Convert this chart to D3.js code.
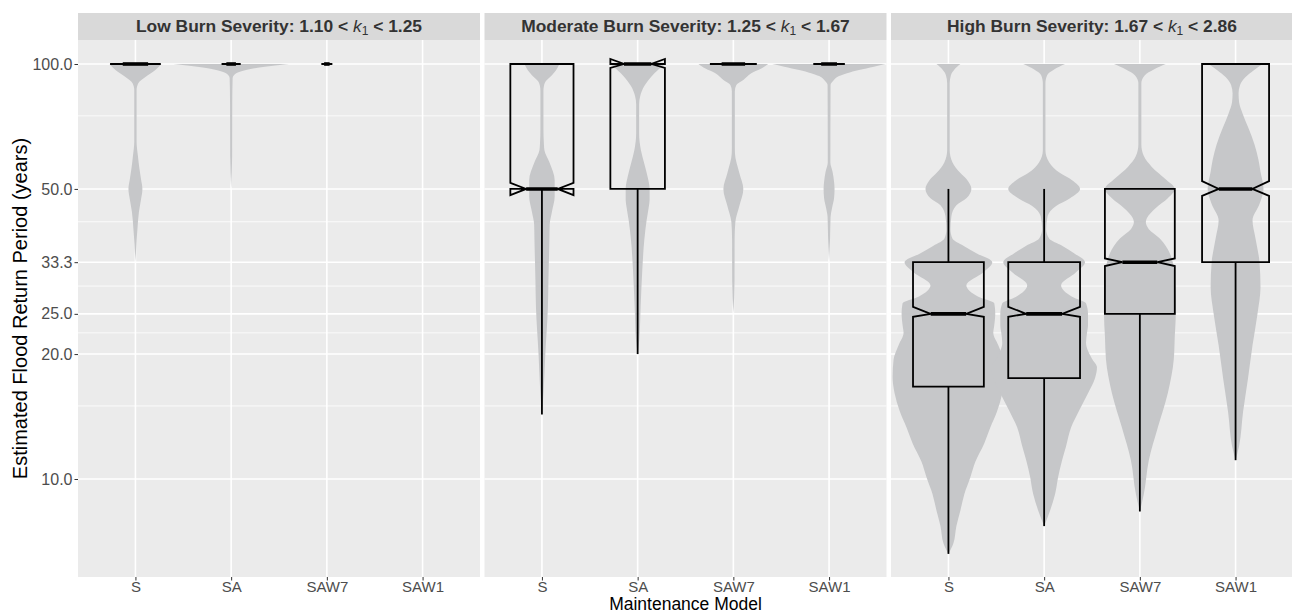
<!DOCTYPE html>
<html>
<head>
<meta charset="utf-8">
<script src="https://cdn.jsdelivr.net/npm/d3@7"></script>
<style>
body { margin: 0; background: #fff; }
text { font-family: "Liberation Sans", Arial, sans-serif; }
</style>
</head>
<body>
<div id="chart"></div>
<script>
var svgWidth = 1292;
var svgHeight = 614;

var margin = { top: 13, left: 78, bottom: 37 };
var panelW = 402;
var panelGap = 4.5;
var stripH = 27;
var plotTop = margin.top + stripH;
var plotBottom = svgHeight - margin.bottom;

// categories and facet labels
var models = ["S", "SA", "SAW7", "SAW1"];
var severities = ["Low Burn Severity", "Moderate Burn Severity", "High Burn Severity"];
var kFrom = ["1.10", "1.25", "1.67"];
var kTo = ["1.25", "1.67", "2.86"];

// y axis breaks (return period, years)
var yBreaks = [10, 20, 25, 33.3, 50, 100];
var yMinor = [15, 22.5, 29.17, 41.67, 75];

// violin outlines: [return period, half-width density]
var violinLow = [
    [[100, 26], [96.7, 20], [93, 10], [90, 3], [86.6, 1.2], [65, 1.2], [60, 2.5], [56, 4], [53, 5.5], [50, 7], [47, 5.5], [44, 3.5], [40, 2], [37, 1], [33.3, 0]],
    [[100, 58], [98.9, 40], [97.8, 25], [96.7, 15], [95.7, 8], [94.1, 3], [92.5, 1.5], [80, 1.1], [60, 1], [50, 0]],
    [],
    []
];
var violinModerate = [
    [[100, 17.5], [96.5, 14], [94, 10], [91, 4], [88.5, 2], [86, 1.5], [70, 1.5], [64, 2], [62, 2.5], [58, 7.5], [52.5, 12.8], [48, 12.8], [44, 10], [41, 7.8], [37.7, 7.5], [30, 6.5], [26, 6], [19.8, 3.3], [16.3, 1.7], [14.3, 0]],
    [[100, 27], [98.5, 24], [94, 15], [88.5, 6.7], [83.5, 2.5], [80, 1.5], [68, 1.5], [62, 3.3], [57.5, 6.7], [53.5, 10], [50, 12], [47, 12], [45, 11], [42, 9], [37.7, 6.7], [32, 4.7], [26, 3], [21.7, 1.7], [20, 0]],
    [[100, 35], [97.5, 28], [95, 18], [91.5, 10], [89, 3], [86, 1.5], [64, 1.5], [61, 1.6], [54.6, 6], [50, 10], [45.5, 6], [41.6, 2], [38, 1.3], [30, 1.2], [25, 0]],
    [[100, 57], [98.5, 45], [96.7, 30], [95, 18], [93.5, 10], [91, 4], [89, 1.5], [58, 1.3], [55, 3.5], [52, 5], [50, 5.5], [47.5, 5], [45, 3], [42.8, 1.5], [38, 1], [33.3, 0]]
];
var violinHigh = [
    [[100, 12], [97, 6], [94, 2.5], [90, 1.3], [62, 1.3], [58, 4], [54.6, 12], [52.5, 19], [50, 23], [47.5, 18], [45.7, 8], [43, 3], [40, 2], [38, 4], [36.5, 15], [35, 28], [33.3, 44], [31.5, 35], [29.3, 18], [27.5, 30], [26.5, 46], [25, 47], [23.5, 46], [22.5, 45], [21, 50], [19.4, 55], [17.6, 56], [16.1, 54], [14.6, 49], [13.3, 42], [12.2, 36], [11, 27], [10.1, 22], [9.2, 16], [8.4, 12], [7.7, 8], [7, 5], [6.6, 0]],
    [[100, 21], [97, 10], [94, 3], [90, 1.3], [62, 1.3], [58, 5], [54.6, 16], [52.5, 28], [50, 36], [47.5, 26], [45.5, 12], [43, 3.5], [40, 2], [38, 5], [36.5, 18], [35, 30], [33.3, 41], [31.5, 32], [29.3, 17], [27.5, 28], [26.5, 42], [25, 44], [23.5, 44], [22.5, 43], [21.3, 42], [19.5, 48], [18.6, 53], [17.5, 51], [16.1, 44], [14.6, 35], [13.3, 27], [12, 22], [11.1, 18], [10.1, 14], [9.2, 11], [8.4, 6], [7.7, 0]],
    [[100, 26], [97, 14], [94, 5], [90, 1.5], [64, 1.5], [60, 4], [56.5, 12], [53, 25], [50, 35], [47.5, 28], [45, 16], [42.5, 7], [41.6, 6], [40, 9], [38, 20], [35, 30], [33.3, 33], [30, 35], [27, 36], [25, 36], [22, 35], [19.4, 34], [16.1, 28], [13.3, 18], [11.1, 9], [9.2, 4], [8.35, 0]],
    [[100, 27], [96.5, 18], [93, 10], [89, 4.5], [85, 3], [81, 3.5], [76, 7], [70, 13], [64, 19], [58.7, 23], [55, 25], [50, 28], [46, 24], [42, 17], [38, 20], [33.3, 24], [29, 25], [25, 22], [21, 17], [17.5, 12.5], [14.5, 7.5], [12, 3.5], [11.1, 0]]
];

// notched boxplot stats: [ymin, lower, notchLower, median, notchUpper, upper, ymax]
var boxLow = [
    [100, 100, 100, 100, 100, 100, 100],
    [100, 100, 100, 100, 100, 100, 100],
    [100, 100, 100, 100, 100, 100, 100],
    null
];
var boxModerate = [
    [14.3, 50, 48.3, 50, 51.7, 100, 100],
    [20, 50, 97.8, 100, 102.8, 100, 100],
    [100, 100, 100, 100, 100, 100, 100],
    [100, 100, 100, 100, 100, 100, 100]
];
var boxHigh = [
    [6.6, 16.7, 24.6, 25, 26, 33.3, 50],
    [7.7, 17.5, 24.6, 25, 26, 33.3, 50],
    [8.35, 25, 32.6, 33.3, 34, 50, 50],
    [11.1, 33.3, 48.1, 50, 52.2, 100, 100]
];
// relative box widths (varwidth)
var boxWidthLow = [0.53, 0.2, 0.115, 0];
var boxWidthModerate = [0.66, 0.57, 0.49, 0.33];
var boxWidthHigh = [0.74, 0.75, 0.73, 0.70];

var violins = [violinLow, violinModerate, violinHigh];
var boxes = [boxLow, boxModerate, boxHigh];
var boxWidths = [boxWidthLow, boxWidthModerate, boxWidthHigh];

var svg = d3.select("#chart")
    .append("svg")
    .attr("width", svgWidth)
    .attr("height", svgHeight);

var y = d3.scaleLog()
    .domain([10, 100])
    .range([479, 64]);

var x = d3.scalePoint()
    .domain(models)
    .range([0, panelW])
    .padding(0.6);

var wScale = d3.scaleLinear()
    .domain([0, 60])
    .range([0, 0.625 * x.step()]);

var violinArea = d3.area()
    .y(d => y(d[0]))
    .x0(d => -wScale(d[1]))
    .x1(d => wScale(d[1]))
    .curve(d3.curveMonotoneY);

svg.append("defs").append("clipPath")
    .attr("id", "panelClip")
    .append("rect")
    .attr("x", 0)
    .attr("y", plotTop)
    .attr("width", panelW)
    .attr("height", plotBottom - plotTop);

severities.forEach(function(sev, p) {
    var px = margin.left + p * (panelW + panelGap);
    var g = svg.append("g").attr("transform", `translate(${px}, 0)`);

    // panel background + grid
    g.append("rect")
        .attr("x", 0).attr("y", plotTop)
        .attr("width", panelW).attr("height", plotBottom - plotTop)
        .attr("fill", "#EBEBEB");

    g.selectAll(".minor")
        .data(yMinor)
        .enter().append("line")
        .attr("x1", 0).attr("x2", panelW)
        .attr("y1", d => y(d)).attr("y2", d => y(d))
        .attr("stroke", "#fff").attr("stroke-width", 0.8);

    g.selectAll(".major")
        .data(yBreaks)
        .enter().append("line")
        .attr("x1", 0).attr("x2", panelW)
        .attr("y1", d => y(d)).attr("y2", d => y(d))
        .attr("stroke", "#fff").attr("stroke-width", 1.6);

    g.selectAll(".vmajor")
        .data(models)
        .enter().append("line")
        .attr("x1", d => x(d)).attr("x2", d => x(d))
        .attr("y1", plotTop).attr("y2", plotBottom)
        .attr("stroke", "#fff").attr("stroke-width", 1.6);

    var body = g.append("g").attr("clip-path", "url(#panelClip)");

    // violins
    models.forEach(function(m, i) {
        var prof = violins[p][i];
        if (!prof.length) return;
        body.append("path")
            .datum(prof)
            .attr("transform", `translate(${x(m)}, 0)`)
            .attr("d", violinArea)
            .attr("fill", "#C6C7C9");
    });

    // notched boxplots
    models.forEach(function(m, i) {
        var b = boxes[p][i];
        if (!b) return;
        var cx = x(m);
        var half = boxWidths[p][i] * x.step() / 2;
        var xmin = cx - half, xmax = cx + half;
        var indent = 0.25 * (xmax - xmin);
        var ymin = y(b[0]), lower = y(b[1]), nLo = y(b[2]), mid = y(b[3]),
            nHi = y(b[4]), upper = y(b[5]), ymax = y(b[6]);

        body.append("line")
            .attr("x1", cx).attr("x2", cx)
            .attr("y1", upper).attr("y2", ymax)
            .attr("stroke", "#000").attr("stroke-width", 1.8);
        body.append("line")
            .attr("x1", cx).attr("x2", cx)
            .attr("y1", lower).attr("y2", ymin)
            .attr("stroke", "#000").attr("stroke-width", 1.8);

        var pts = [
            [xmin, upper], [xmin, nHi], [xmin + indent, mid], [xmin, nLo], [xmin, lower],
            [xmax, lower], [xmax, nLo], [xmax - indent, mid], [xmax, nHi], [xmax, upper]
        ];
        body.append("path")
            .attr("d", d3.line()(pts) + "Z")
            .attr("fill", "none")
            .attr("stroke", "#000")
            .attr("stroke-width", 1.8)
            .attr("stroke-linejoin", "miter");

        body.append("line")
            .attr("x1", xmin + indent).attr("x2", xmax - indent)
            .attr("y1", mid).attr("y2", mid)
            .attr("stroke", "#000").attr("stroke-width", 3.6);
    });

    // strip
    g.append("rect")
        .attr("x", 0).attr("y", margin.top)
        .attr("width", panelW).attr("height", stripH)
        .attr("fill", "#D9D9D9");

    var st = g.append("text")
        .attr("x", panelW / 2)
        .attr("y", margin.top + 19)
        .attr("text-anchor", "middle")
        .attr("font-size", "17.4px")
        .attr("font-weight", "bold")
        .attr("fill", "#333333");
    st.append("tspan").text(sev + ": " + kFrom[p] + " < ");
    st.append("tspan").attr("font-style", "italic").attr("font-weight", "normal").text("k");
    st.append("tspan").attr("font-weight", "normal").attr("font-size", "12px").attr("dy", 3).text("1");
    st.append("tspan").attr("dy", -3).text(" < " + kTo[p]);

    // x axis
    var xAxis = g.append("g")
        .attr("transform", `translate(0, ${plotBottom})`)
        .call(d3.axisBottom(x).tickSize(3.5).tickPadding(0.5));
    xAxis.select(".domain").remove();
    xAxis.selectAll("line").attr("stroke", "#333333").attr("stroke-width", 1);
    xAxis.selectAll("text")
        .attr("fill", "#4D4D4D")
        .attr("font-size", "15px")
        .attr("font-family", "'Liberation Sans', Arial, sans-serif");

    // y axis only on first panel
    if (p === 0) {
        var yAxis = g.append("g")
            .call(d3.axisLeft(y).tickValues(yBreaks).tickFormat(d3.format(".1f")).tickSize(3.5).tickPadding(2));
        yAxis.select(".domain").remove();
        yAxis.selectAll("line").attr("stroke", "#333333").attr("stroke-width", 1);
        yAxis.selectAll("text")
            .attr("fill", "#4D4D4D")
            .attr("font-size", "16px")
            .attr("font-family", "'Liberation Sans', Arial, sans-serif");
    }
});

// axis titles
svg.append("text")
    .attr("transform", "rotate(-90)")
    .attr("x", -(plotTop + plotBottom) / 2)
    .attr("y", 27)
    .attr("text-anchor", "middle")
    .attr("font-size", "20px")
    .attr("fill", "#000")
    .text("Estimated Flood Return Period (years)");

svg.append("text")
    .attr("x", margin.left + (3 * panelW + 2 * panelGap) / 2)
    .attr("y", 610)
    .attr("text-anchor", "middle")
    .attr("font-size", "17.5px")
    .attr("fill", "#000")
    .text("Maintenance Model");
</script>
</body>
</html>
